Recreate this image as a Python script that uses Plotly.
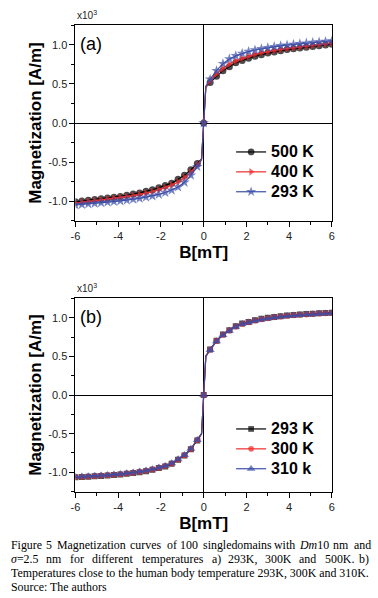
import plotly.graph_objects as go

# ---------------- data ----------------
field_a = [-6.0, -5.7, -5.4, -5.1, -4.8, -4.5, -4.2, -3.9, -3.6, -3.3, -3.0, -2.7, -2.4, -2.1,
           -1.8, -1.5, -1.2, -0.9, -0.6, -0.3, -0.1, 0.0, 0.1, 0.3, 0.6, 0.9, 1.2, 1.5, 1.8,
           2.1, 2.4, 2.7, 3.0, 3.3, 3.6, 3.9, 4.2, 4.5, 4.8, 5.1, 5.4, 5.7, 6.0]

m_500K = [-1.01, -1.0, -0.99, -0.98, -0.97, -0.96, -0.95, -0.94, -0.925, -0.91, -0.895, -0.875,
          -0.855, -0.83, -0.80, -0.77, -0.72, -0.67, -0.60, -0.52, -0.46, 0.0, 0.46, 0.52, 0.60,
          0.67, 0.72, 0.77, 0.80, 0.83, 0.855, 0.875, 0.895, 0.91, 0.925, 0.94, 0.95, 0.96,
          0.97, 0.98, 0.99, 1.0, 1.01]
m_400K = [-1.025, -1.015, -1.005, -0.995, -0.985, -0.975, -0.965, -0.955, -0.945, -0.93, -0.915,
          -0.90, -0.88, -0.855, -0.83, -0.795, -0.755, -0.70, -0.63, -0.54, -0.46, 0.0, 0.46,
          0.54, 0.63, 0.70, 0.755, 0.795, 0.83, 0.855, 0.88, 0.90, 0.915, 0.93, 0.945, 0.955,
          0.965, 0.975, 0.985, 0.995, 1.005, 1.015, 1.025]
m_293K_a = [-1.05, -1.044, -1.037, -1.03, -1.022, -1.014, -1.006, -0.997, -0.988, -0.977, -0.965,
            -0.95, -0.935, -0.915, -0.89, -0.86, -0.82, -0.76, -0.67, -0.56, -0.47, 0.0, 0.47,
            0.56, 0.67, 0.76, 0.82, 0.86, 0.89, 0.915, 0.935, 0.95, 0.965, 0.977, 0.988, 0.997,
            1.006, 1.014, 1.022, 1.03, 1.037, 1.044, 1.05]

field_b = field_a

m_293K_b = [-1.065, -1.061, -1.057, -1.052, -1.047, -1.041, -1.035, -1.028, -1.019, -1.01, -0.998,
            -0.985, -0.968, -0.946, -0.924, -0.891, -0.839, -0.783, -0.702, -0.59, -0.504, 0.0,
            0.504, 0.59, 0.702, 0.783, 0.839, 0.891, 0.924, 0.946, 0.968, 0.985, 0.998, 1.01,
            1.019, 1.028, 1.035, 1.041, 1.047, 1.052, 1.057, 1.061, 1.065]
m_300K_b = [-1.061, -1.057, -1.053, -1.048, -1.043, -1.037, -1.031, -1.024, -1.015, -1.006, -0.994,
            -0.981, -0.964, -0.942, -0.92, -0.887, -0.835, -0.779, -0.698, -0.586, -0.50, 0.0,
            0.50, 0.586, 0.698, 0.779, 0.835, 0.887, 0.92, 0.942, 0.964, 0.981, 0.994, 1.006,
            1.015, 1.024, 1.031, 1.037, 1.043, 1.048, 1.053, 1.057, 1.061]
m_310K_b = [-1.058, -1.054, -1.05, -1.045, -1.04, -1.034, -1.028, -1.021, -1.012, -1.003, -0.991,
            -0.978, -0.961, -0.939, -0.917, -0.884, -0.832, -0.776, -0.695, -0.583, -0.497, 0.0,
            0.497, 0.583, 0.695, 0.776, 0.832, 0.884, 0.917, 0.939, 0.961, 0.978, 0.991, 1.003,
            1.012, 1.021, 1.028, 1.034, 1.04, 1.045, 1.05, 1.054, 1.058]

x_ticks = [-6, -4, -2, 0, 2, 4, 6]
x_tick_labels = ["-6", "-4", "-2", "0", "2", "4", "6"]
y_ticks = [-1.0, -0.5, 0.0, 0.5, 1.0]
y_tick_labels = ["-1.0", "-0.5", "0.0", "0.5", "1.0"]

# ---------------- style ----------------
W, H = 378, 598
BLACK = "#000000"
RED = "#ee2b2b"
BLUE = "#3a4ea8"
SANS = "Liberation Sans, Arial, sans-serif"
SERIF = "Liberation Serif, Times New Roman, serif"


def sizes(xs, s):
    # markers are drawn on every measured point except the tiny near-zero steps
    return [0 if abs(v) == 0.1 else s for v in xs]


def leg(name):
    return f'<span style="font-size:16px"><b>{name}</b></span>'


fig = go.Figure()

panel_a = [("500 K", m_500K, BLACK, "circle", 7),
           ("400 K", m_400K, RED, "triangle-right", 7),
           ("293 K", m_293K_a, BLUE, "star", 8)]
for name, ys, col, sym, s in panel_a:
    fig.add_trace(go.Scatter(x=field_a, y=ys, mode="lines+markers", name=leg(name),
                             line=dict(color=col, width=1.2),
                             marker=dict(symbol=sym, size=sizes(field_a, s), color=col,
                                         line=dict(width=0)),
                             xaxis="x", yaxis="y", legend="legend"))

panel_b = [("293 K", m_293K_b, BLACK, "square", 6),
           ("300 K", m_300K_b, RED, "circle", 6),
           ("310 k", m_310K_b, BLUE, "triangle-up", 8)]
for name, ys, col, sym, s in panel_b:
    fig.add_trace(go.Scatter(x=field_b, y=ys, mode="lines+markers", name=leg(name),
                             line=dict(color=col, width=1.2),
                             marker=dict(symbol=sym, size=sizes(field_b, s), color=col,
                                         line=dict(width=0)),
                             xaxis="x2", yaxis="y2", legend="legend2"))


def px_x(p):
    return p / W


def px_y(p):
    return 1 - p / H


def xaxis(domain, anchor):
    return dict(domain=domain, anchor=anchor, range=[-6, 6], tickvals=x_ticks,
                ticktext=x_tick_labels,
                ticks="outside", ticklen=5, tickwidth=1, tickcolor=BLACK,
                minor=dict(dtick=1, tick0=0, ticks="outside", ticklen=3, tickcolor=BLACK),
                showline=True, linecolor=BLACK, linewidth=1, mirror=True,
                showgrid=False, zeroline=True, zerolinecolor=BLACK, zerolinewidth=1,
                tickfont=dict(family=SANS, size=11, color="#222"),
                title=dict(text="<b>B[mT]</b>", font=dict(family=SANS, size=17, color=BLACK),
                           standoff=4))


def yaxis(domain, anchor):
    return dict(domain=domain, anchor=anchor, range=[-1.255, 1.255], tickvals=y_ticks,
                ticktext=y_tick_labels,
                ticks="outside", ticklen=5, tickwidth=1, tickcolor=BLACK,
                minor=dict(dtick=0.25, tick0=0, ticks="outside", ticklen=3, tickcolor=BLACK),
                showline=True, linecolor=BLACK, linewidth=1, mirror=True,
                showgrid=False, zeroline=True, zerolinecolor=BLACK, zerolinewidth=1,
                tickfont=dict(family=SANS, size=11, color="#222"),
                title=dict(text="<b>Magnetization [A/m]</b>",
                           font=dict(family=SANS, size=17, color=BLACK), standoff=2))


xd = [px_x(72), px_x(334)]
legend_common = dict(xanchor="left", yanchor="top", bgcolor="rgba(0,0,0,0)",
                     font=dict(family=SANS, size=13, color=BLACK),
                     tracegroupgap=0, itemwidth=30)
fig.update_layout(
    width=W, height=H, margin=dict(l=0, r=0, t=0, b=0),
    paper_bgcolor="white", plot_bgcolor="white",
    xaxis=xaxis(xd, "y"), yaxis=yaxis([px_y(221), px_y(25)], "x"),
    xaxis2=xaxis(xd, "y2"), yaxis2=yaxis([px_y(492), px_y(298)], "x2"),
    legend=dict(x=px_x(231), y=px_y(137), **legend_common),
    legend2=dict(x=px_x(231), y=px_y(414), **legend_common),
    showlegend=True,
)

ann = []
for top, lab in [(25, "(a)"), (298, "(b)")]:
    ann.append(dict(x=px_x(75), y=px_y(top + 19), xref="paper", yref="paper", text=lab,
                    showarrow=False, xanchor="left", yanchor="middle",
                    font=dict(family=SANS, size=18, color=BLACK)))
    ann.append(dict(x=px_x(72), y=px_y(top - 10), xref="paper", yref="paper",
                    text="x10<sup>3</sup>", showarrow=False, xanchor="left", yanchor="middle",
                    font=dict(family=SANS, size=10, color="#222")))

cap_font = dict(family=SERIF, size=11.9, color=BLACK)
line1 = [("Figure", 4), ("5", 40), ("Magnetization", 51), ("curves", 126), ("of", 163),
         ("100", 177), ("singledomains", 200), ("with", 273), ("<i>Dm</i>10", 298),
         ("nm", 333), ("and", 355)]
for w, xp in line1:
    ann.append(dict(x=px_x(xp), y=px_y(545), xref="paper", yref="paper", showarrow=False,
                    xanchor="left", yanchor="middle", font=cap_font, text=w))
line2 = [("<i>σ</i>=2.5", 4), ("nm", 40), ("for", 64), ("different", 87), ("temperatures", 138),
         ("a)", 209), ("293K,", 226), ("300K", 264), ("and", 298), ("500K.", 325), ("b)", 360)]
for w, xp in line2:
    ann.append(dict(x=px_x(xp), y=px_y(559), xref="paper", yref="paper", showarrow=False,
                    xanchor="left", yanchor="middle", font=cap_font, text=w))
ann.append(dict(x=px_x(4), y=px_y(573), xref="paper", yref="paper", showarrow=False,
                xanchor="left", yanchor="middle", font=cap_font,
                text="Temperatures close to the human body temperature 293K, 300K and 310K."))
ann.append(dict(x=px_x(4), y=px_y(587), xref="paper", yref="paper", showarrow=False,
                xanchor="left", yanchor="middle", font=cap_font,
                text="Source: The authors"))
fig.update_layout(annotations=ann)

fig.write_html("out.html", config={"displayModeBar": False},
               post_script="document.body.style.margin='0';")
